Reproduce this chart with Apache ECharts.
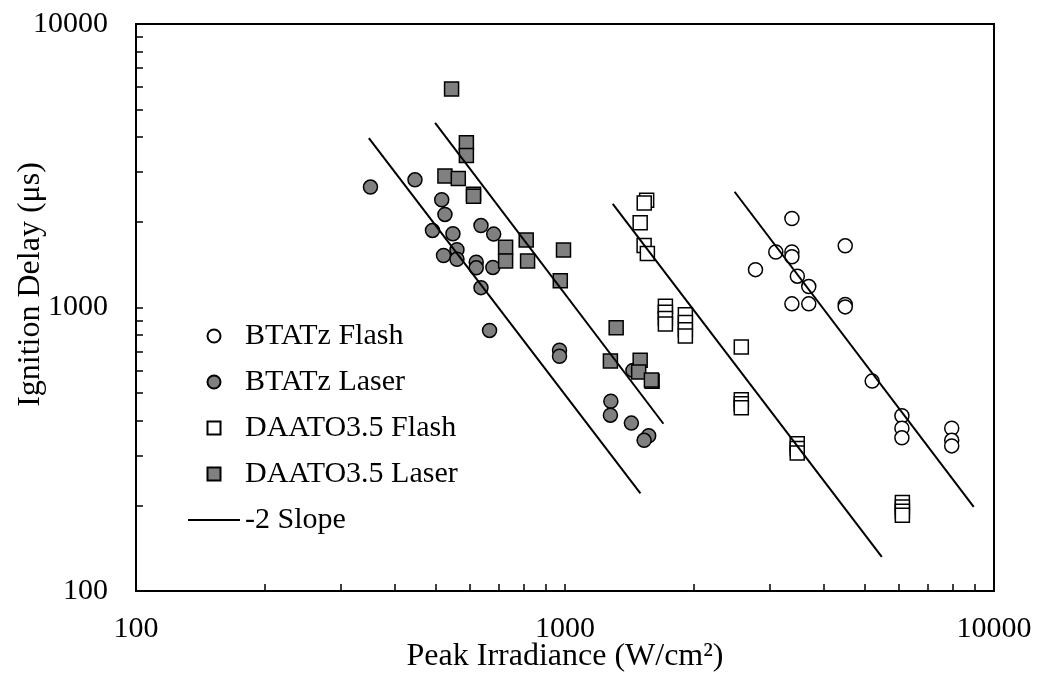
<!DOCTYPE html>
<html>
<head>
<meta charset="utf-8">
<script src="https://cdn.jsdelivr.net/npm/echarts@6/dist/echarts.min.js"></script>
<style>
html,body{margin:0;padding:0;background:#fff;}
#chart{width:1045px;height:677px;}
</style>
</head>
<body>
<div id="chart"></div>
<script>
// ---- data (Peak Irradiance W/cm², Ignition Delay µs) ----
var btatzFlash = [
  [3380,2060],[4500,1650],[3100,1570],[3380,1570],[3380,1510],[2780,1360],
  [3480,1290],[3700,1185],[3380,1030],[3700,1030],[4500,1025],[4500,1005],
  [5200,550],[6100,415],[6100,375],[6100,347],[7970,375],[7970,340],[7970,325]
];
var btatzLaser = [
  [352,2660],[447,2820],[516,2400],[525,2130],[491,1870],[548,1820],[637,1945],
  [682,1815],[560,1600],[521,1525],[560,1480],[621,1445],[621,1380],[679,1385],
  [637,1175],[667,830],[971,707],[971,673],[1440,600],[1279,467],[1276,417],
  [1428,391],[1567,353],[1529,340]
];
var daatoFlash = [
  [1550,2390],[1530,2335],[1497,1990],[1529,1655],[1556,1550],
  [1714,1011],[1714,963],[1714,915],[1714,874],
  [1908,943],[1908,885],[1908,835],[1908,793],
  [2576,726],[2576,473],[2576,458],[2576,443],
  [3478,331],[3478,318],[3478,307],
  [6115,205],[6115,198],[6115,191],[6115,185]
];
var daatoLaser = [
  [544,5900],[589,3810],[589,3440],[525,2910],[564,2850],[612,2510],[612,2470],
  [727,1630],[727,1460],[812,1730],[818,1460],[992,1595],[975,1243],
  [1316,848],[1276,648],[1497,652],[1485,592],[1596,549],[1590,555]
];
var slope1 = [[349,3960],[1499,221]];
var slope2 = [[498,4480],[1696,389]];
var slope3 = [[1292,2320],[5476,132]];
var slope4 = [[2485,2560],[8968,198]];

var tickValues = [100,200,300,400,500,600,700,800,900,1000,2000,3000,4000,5000,6000,7000,8000,9000,10000];
var labelValues = [100,1000,10000];

var FONT = "'Liberation Serif','Times New Roman',serif";
var SQUARE = 'path://M0 0H10V10H0Z';
var chart = echarts.init(document.getElementById('chart'), null, {renderer:'canvas'});

function scatter(name, data, symbol, fill) {
  return {
    name: name, type: 'scatter', data: data, symbol: symbol, symbolSize: 14,
    itemStyle: {color: fill, borderColor: '#000', borderWidth: 1.5, opacity: 1},
    emphasis: {disabled: true}
  };
}
function slope(data) {
  return {
    name: '-2 Slope', type: 'line', data: data, symbol: 'none', showSymbol: false,
    lineStyle: {color: '#000', width: 2}, itemStyle: {color: '#000'},
    emphasis: {disabled: true}, z: 5
  };
}

var axisCommon = {
  type: 'log', logBase: 10, min: 100, max: 10000,
  axisLine: {show: true, lineStyle: {color: '#000', width: 2}},
  axisTick: {show: true, inside: true, length: 7, customValues: tickValues, lineStyle: {color: '#000', width: 1.5}},
  axisLabel: {customValues: labelValues, color: '#000', fontFamily: FONT, fontSize: 30,
    formatter: function (v) { return String(Math.round(v)); }},
  splitLine: {show: false},
  nameLocation: 'middle',
  nameMoveOverlap: false,
  nameTextStyle: {color: '#000', fontFamily: FONT, fontSize: 32}
};

var option = {
  animation: false,
  backgroundColor: '#fff',
  grid: {left: 136, top: 24, right: 51, bottom: 86, show: true, borderColor: '#000', borderWidth: 2, containLabel: false, outerBoundsMode: 'none'},
  legend: {
    orient: 'vertical', left: 183, top: 316, itemWidth: 52, itemHeight: 13, itemGap: 16,
    data: [
      {name: 'BTATz Flash', icon: 'circle'},
      {name: 'BTATz Laser', icon: 'circle'},
      {name: 'DAATO3.5 Flash', icon: SQUARE},
      {name: 'DAATO3.5 Laser', icon: SQUARE},
      {name: '-2 Slope', icon: 'path://M0 0H52V2H0Z', itemStyle: {color: '#000', borderWidth: 0}}
    ],
    textStyle: {color: '#000', fontFamily: FONT, fontSize: 30}
  },
  xAxis: Object.assign({}, axisCommon, {
    name: 'Peak Irradiance (W/cm²)', nameGap: 50,
    axisLabel: Object.assign({}, axisCommon.axisLabel, {margin: 23})
  }),
  yAxis: Object.assign({}, axisCommon, {
    name: 'Ignition Delay (μs)', nameGap: 89, nameRotate: 90,
    nameTextStyle: Object.assign({}, axisCommon.nameTextStyle, {padding: [0,0,0,46]}),
    axisLabel: Object.assign({}, axisCommon.axisLabel, {margin: 28})
  }),
  series: [
    scatter('BTATz Flash', btatzFlash, 'circle', '#fff'),
    scatter('BTATz Laser', btatzLaser, 'circle', '#808080'),
    scatter('DAATO3.5 Flash', daatoFlash, SQUARE, '#fff'),
    scatter('DAATO3.5 Laser', daatoLaser, SQUARE, '#808080'),
    slope(slope1), slope(slope2), slope(slope3), slope(slope4)
  ]
};
chart.setOption(option);
</script>
</body>
</html>
